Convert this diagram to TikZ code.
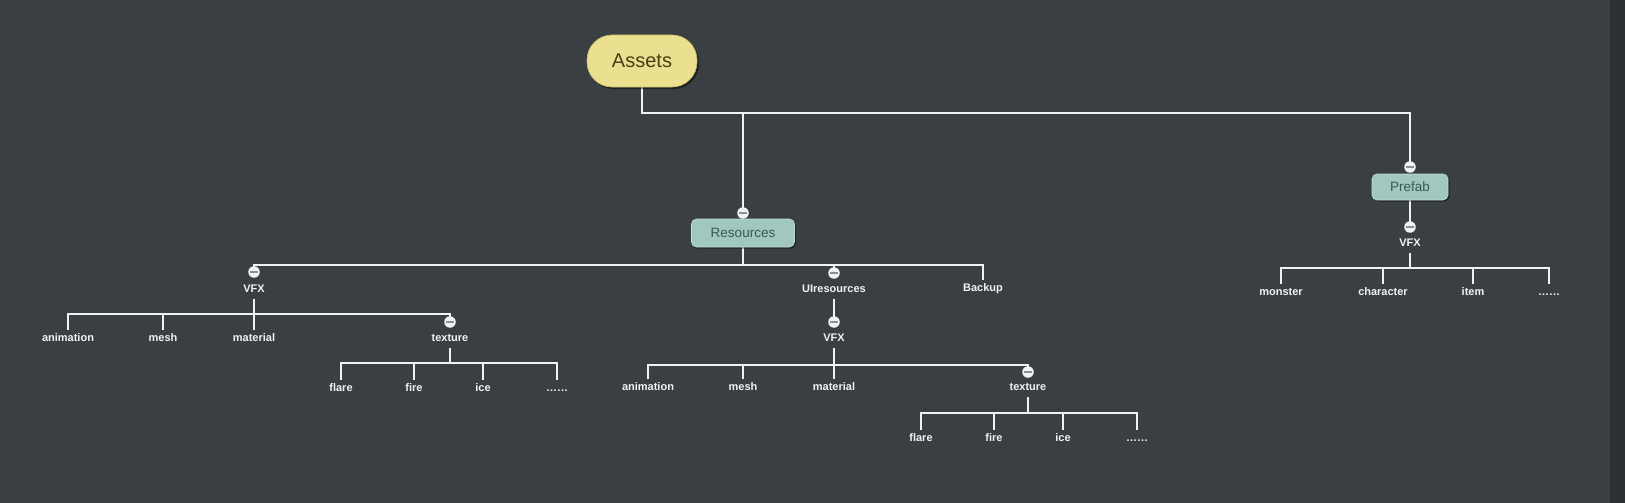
\documentclass[tikz,border=0pt]{standalone}
\usepackage{fontspec}
\setmainfont{Liberation Sans}
\usetikzlibrary{shadows}
\pgfdeclarelayer{bglayer}
\pgfdeclarelayer{linelayer}
\pgfsetlayers{bglayer,linelayer,main}
\definecolor{bg}{HTML}{393F42}
\definecolor{bgdark}{HTML}{2C3033}
\definecolor{assetfill}{HTML}{EAE090}
\definecolor{assetdraw}{HTML}{C9BC62}
\definecolor{assettext}{HTML}{4A3E12}
\definecolor{tealfill}{HTML}{A0C8BE}
\definecolor{tealdraw}{HTML}{C2DDD6}
\definecolor{tealtext}{HTML}{3C5853}
\definecolor{linec}{HTML}{F2F2F2}
\definecolor{minusc}{HTML}{8A8F92}
\tikzset{
  conn/.style={draw=linec, line width=2.5pt},
  leaf/.style={text=linec, font=\bfseries\fontsize{11}{13}\selectfont, inner sep=0pt, text height=8pt, text depth=2.5pt, outer sep=4pt},
  toggle/.style={circle, fill=linec, inner sep=0pt, minimum size=11.5pt,
    path picture={\draw[minusc, line width=1.3pt] ([xshift=-3.8pt]path picture bounding box.center) -- ([xshift=3.8pt]path picture bounding box.center);}},
  rootbox/.style={rounded corners=25pt, fill=assetfill, draw=assetdraw, line width=0.6pt, minimum width=110pt, minimum height=52pt, text=assettext, font=\fontsize{20}{24}\selectfont,
    drop shadow={shadow xshift=2pt, shadow yshift=-2pt, opacity=0.45, fill=black}},
  tealbox/.style={rounded corners=5pt, fill=tealfill, draw=tealdraw, line width=0.6pt, text=tealtext, font=\fontsize{13.5}{16}\selectfont, inner sep=0pt,
    drop shadow={shadow xshift=1.5pt, shadow yshift=-1.5pt, opacity=0.45, fill=black}},
}
\begin{document}
\begin{tikzpicture}[x=1pt,y=-1pt]
\begin{pgfonlayer}{bglayer}
\fill[bg] (0,0) rectangle (1625,503);
\fill[bgdark] (1610,0) rectangle (1625,503);
\end{pgfonlayer}
\useasboundingbox (0,0) rectangle (1625,503);

% main nodes
\node[rootbox] (assets) at (642,61) {Assets};
\node[tealbox, minimum width=103pt, minimum height=28pt] (res) at (743,233) {Resources};
\node[tealbox, minimum width=76pt, minimum height=26pt] (prefab) at (1410,187) {Prefab};

% toggles
\node[toggle] (resc) at (743,213) {};
\node[toggle] (prefc) at (1410,167) {};
\node[toggle] (v1c) at (254,272) {};
\node[toggle] (uic) at (834,273) {};
\node[toggle] (tex1c) at (450,322) {};
\node[toggle] (v2c) at (834,322) {};
\node[toggle] (tex2c) at (1028,372) {};
\node[toggle] (v3c) at (1410,227) {};

% labels
\node[leaf] (v1) at (254,290) {VFX};
\node[leaf] (ui) at (834,290) {UIresources};
\node[leaf] (bk) at (983,289) {Backup};
\node[leaf] (anim1) at (68,339) {animation};
\node[leaf] (mesh1) at (163,339) {mesh};
\node[leaf] (mat1) at (254,339) {material};
\node[leaf] (tex1) at (450,339) {texture};
\node[leaf] (flare1) at (341,389) {flare};
\node[leaf] (fire1) at (414,389) {fire};
\node[leaf] (ice1) at (483,389) {ice};
\node[leaf] (dots1) at (557,389) {……};
\node[leaf] (v2) at (834,339) {VFX};
\node[leaf] (anim2) at (648,388) {animation};
\node[leaf] (mesh2) at (743,388) {mesh};
\node[leaf] (mat2) at (834,388) {material};
\node[leaf] (tex2) at (1028,388) {texture};
\node[leaf] (flare2) at (921,439) {flare};
\node[leaf] (fire2) at (994,439) {fire};
\node[leaf] (ice2) at (1063,439) {ice};
\node[leaf] (dots2) at (1137,439) {……};
\node[leaf] (v3) at (1410,244) {VFX};
\node[leaf] (monster) at (1281,293) {monster};
\node[leaf] (character) at (1383,293) {character};
\node[leaf] (item) at (1473,293) {item};
\node[leaf] (dots3) at (1549,293) {……};

% bar coordinates
\coordinate (b0) at (642,113);
\coordinate (b1) at (743,265);
\coordinate (b2) at (254,314);
\coordinate (b3) at (450,363);
\coordinate (b4) at (834,365);
\coordinate (b5) at (1028,413);
\coordinate (b6) at (1410,268);

\begin{pgfonlayer}{linelayer}
\draw[conn] (assets.south) -- (b0) -| (prefc.center);
\draw[conn] (b0) -| (resc.center);
\draw[conn] (res.south) -- (b1) -| (v1c.center);
\draw[conn] (b1) -| (uic.center);
\draw[conn] (b1) -| (bk.north);
\draw[conn] (v1.south) -- (b2) -| (anim1.north);
\draw[conn] (b2) -| (mesh1.north);
\draw[conn] (b2) -| (mat1.north);
\draw[conn] (b2) -| (tex1c.center);
\draw[conn] (tex1.south) -- (b3) -| (flare1.north);
\draw[conn] (b3) -| (fire1.north);
\draw[conn] (b3) -| (ice1.north);
\draw[conn] (b3) -| (dots1.north);
\draw[conn] (ui.south) -- (v2c.center);
\draw[conn] (v2.south) -- (b4) -| (anim2.north);
\draw[conn] (b4) -| (mesh2.north);
\draw[conn] (b4) -| (mat2.north);
\draw[conn] (b4) -| (tex2c.center);
\draw[conn] (tex2.south) -- (b5) -| (flare2.north);
\draw[conn] (b5) -| (fire2.north);
\draw[conn] (b5) -| (ice2.north);
\draw[conn] (b5) -| (dots2.north);
\draw[conn] (prefab.south) -- (v3c.center);
\draw[conn] (v3.south) -- (b6) -| (monster.north);
\draw[conn] (b6) -| (character.north);
\draw[conn] (b6) -| (item.north);
\draw[conn] (b6) -| (dots3.north);
\end{pgfonlayer}
\end{tikzpicture}
\end{document}
